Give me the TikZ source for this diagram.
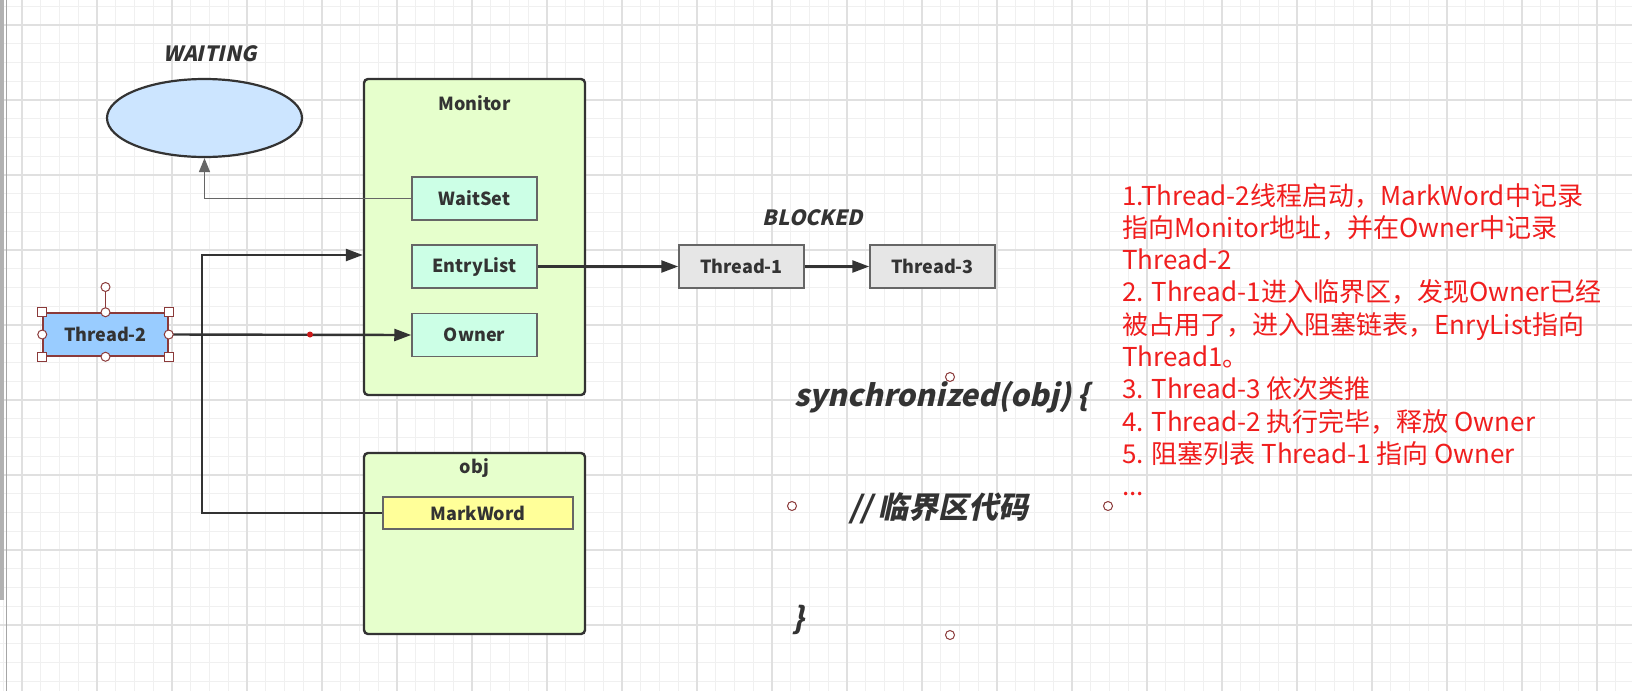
\documentclass[tikz,border=0pt]{standalone}
\usepackage{fontspec}
\setmainfont{Noto Sans CJK SC}
\newfontfamily\slantfont{Noto Sans CJK SC}[FakeSlant=0.22]
\usetikzlibrary{arrows.meta,shapes.geometric}
\definecolor{ink}{HTML}{333333}
\definecolor{edge}{HTML}{666666}
\definecolor{wblue}{HTML}{CCE5FF}
\definecolor{mgreen}{HTML}{E6FFCC}
\definecolor{mint}{HTML}{CCFFE6}
\definecolor{tblue}{HTML}{99CCFF}
\definecolor{tgray}{HTML}{E6E6E6}
\definecolor{myellow}{HTML}{FFFF99}
\definecolor{nred}{HTML}{F01E1E}
\definecolor{handle}{HTML}{8B3A3A}
\definecolor{gminor}{HTML}{F0F0F0}
\definecolor{gmajor}{HTML}{E0E0E0}
\tikzset{
  lbl/.style={font=\fontsize{18}{21}\selectfont\bfseries, text=ink},
  outer/.style={draw=ink, line width=2.4pt, fill=mgreen, rounded corners=4pt, inner sep=0pt},
  inbox/.style={draw=edge, line width=1.5pt, minimum width=125pt, minimum height=43pt, inner sep=0pt, lbl},
  conn/.style={draw=ink, line width=2.4pt, -{Triangle[length=17pt,width=12pt]}},
  thinconn/.style={draw=edge, line width=1.5pt, -{Triangle[length=14pt,width=11pt]}},
  state/.style={font=\slantfont\fontsize{21}{24}\selectfont\bfseries, text=ink},
  note/.style={font=\fontsize{26}{30}\selectfont, text=nred, anchor=base west, inner sep=0pt},
  code/.style={font=\slantfont\fontsize{30}{34}\selectfont\bfseries, text=ink},
  hcirc/.style={circle, draw=handle, fill=white, line width=1pt, minimum size=9pt, inner sep=0pt},
  hsq/.style={rectangle, draw=handle, fill=white, line width=1pt, minimum size=9pt, inner sep=0pt},
}
\begin{document}
\begin{tikzpicture}[x=1pt,y=-1pt]
\useasboundingbox (0,0) rectangle (1632,691);
\fill[white] (0,0) rectangle (1632,691);
% grid
\foreach \i in {0,...,87} \draw[gminor, line width=1pt] ({3.25+18.75*\i},0) -- ({3.25+18.75*\i},691);
\foreach \i in {0,...,37} \draw[gminor, line width=1pt] (0,{6.25+18.75*\i}) -- (1632,{6.25+18.75*\i});
\foreach \i in {0,...,21} \draw[gmajor, line width=1.2pt] ({22+75*\i},0) -- ({22+75*\i},691);
\foreach \i in {0,...,9} \draw[gmajor, line width=1.2pt] (0,{25+75*\i}) -- (1632,{25+75*\i});
% left edge
\fill[gray!60] (0,0) rectangle (4,600);
\draw[gray!70, line width=1pt] (6,0) -- (6,691);

% WAITING
\node[state] (waitlbl) at (210,54) {WAITING};
\node[ellipse, draw=ink, line width=2.2pt, fill=wblue, minimum width=195pt, minimum height=78pt, inner sep=0pt] (waiting) at (204.5,118) {};

% Monitor
\node[outer, minimum width=221pt, minimum height=316pt] (monitor) at (474.5,237) {};
\node[lbl] (monlbl) at (474.5,103) {Monitor};
\node[inbox, fill=mint] (waitset) at (474.5,198.5) {WaitSet};
\node[inbox, fill=mint] (entrylist) at (474.5,266.5) {EntryList};
\node[inbox, fill=mint] (owner) at (474.5,335) {Owner};

% obj
\node[outer, minimum width=221pt, minimum height=181pt] (obj) at (474.5,543.5) {};
\node[lbl] (objlbl) at (474.5,468) {obj};
\node[inbox, fill=myellow, minimum width=190pt, minimum height=32pt] (markword) at (478,513) {MarkWord};

% Thread-2
\node[inbox, fill=tblue, draw=handle] (thread2) at (105.5,334.5) {Thread-2};

% Blocked
\node[state] (blocklbl) at (813,218) {BLOCKED};
\node[inbox, fill=tgray] (thread1) at (741.5,266.5) {Thread-1};
\node[inbox, fill=tgray] (thread3) at (932.5,266.5) {Thread-3};

% connectors
\draw[thinconn] (waitset.west) -| (waiting.south);
\coordinate (bend) at (201.7,255);
\draw[conn] (markword.west) -| (bend) -- (bend -| monitor.west);
\draw[conn] (thread2.east) -- (owner.west);
\draw[conn] (entrylist.east) -- (thread1.west);
\draw[conn] (thread1.east) -- (thread3.west);
\node[circle, fill=nred!85!black, minimum size=6pt, inner sep=0pt] (middot) at (310,334.5) {};

% Thread-2 selection handles
\node[hcirc] (rot) at (105.5,287) {};
\draw[handle, line width=1pt] (rot) -- (thread2.north);
\node[hsq] (h1) at (thread2.north west) {};
\node[hsq] (h2) at (thread2.north east) {};
\node[hsq] (h3) at (thread2.south west) {};
\node[hsq] (h4) at (thread2.south east) {};
\node[hcirc] (h5) at (thread2.north) {};
\node[hcirc] (h6) at (thread2.south) {};
\node[hcirc] (h7) at (thread2.west) {};
\node[hcirc] (h8) at (thread2.east) {};

% code text
\node[code] (sync) at (942,397) {synchronized(obj) \{};
\node[code] (crit) at (939,508) {// 临界区代码};
\node[code] (close) at (798,620) {\}};
\node[hcirc] (c1) at (950,377) {};
\node[hcirc] (c2) at (792,506) {};
\node[hcirc] (c3) at (1108,506) {};
\node[hcirc] (c4) at (950,635) {};

% notes
\node[note] (n1) at (1122,205) {1.Thread-2线程启动，MarkWord中记录};
\node[note] (n2) at (1122,237.3) {指向Monitor地址，并在Owner中记录};
\node[note] (n3) at (1122,269.6) {Thread-2};
\node[note] (n4) at (1122,301.9) {2. Thread-1进入临界区，发现Owner已经};
\node[note] (n5) at (1122,334.2) {被占用了，进入阻塞链表，EnryList指向};
\node[note] (n6) at (1122,366.5) {Thread1。};
\node[note] (n7) at (1122,398.8) {3. Thread-3 依次类推};
\node[note] (n8) at (1122,431.1) {4. Thread-2 执行完毕，释放 Owner};
\node[note] (n9) at (1122,463.4) {5. 阻塞列表 Thread-1 指向 Owner};
\node[note] (n10) at (1122,495.7) {...};
\end{tikzpicture}
\end{document}
